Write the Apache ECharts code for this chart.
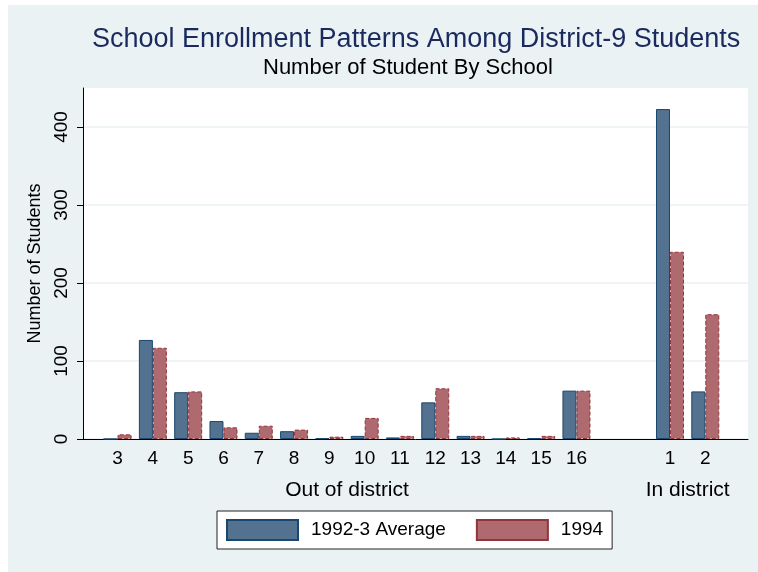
<!DOCTYPE html>
<html>
<head>
<meta charset="utf-8">
<title>School Enrollment Patterns</title>
<script src="https://cdn.jsdelivr.net/npm/echarts@6.0.0/dist/echarts.min.js"></script>
<style>
  html, body { margin: 0; padding: 0; background: #fff; }
  #main { position: absolute; left: 8px; top: 5px; width: 750px; height: 567px; }
</style>
</head>
<body>
<div id="main"></div>
<script>
// schools
let outLabels = ["3", "4", "5", "6", "7", "8", "9", "10", "11", "12", "13", "14", "15", "16"];
let inLabels = ["1", "2"];
let groupNames = ["Out of district", "In district"];
let seriesNames = ["1992-3 Average", "1994"];

let avgOut = [0, 127, 60, 23, 8, 10, 1, 4, 2, 47, 4, 0, 1, 62];
let y1994Out = [6, 117, 61, 15, 17, 12, 3, 27, 4, 65, 4, 2, 4, 62];
let avgIn = [423, 61];
let y1994In = [240, 160];

let yTicks = [0, 100, 200, 300, 400];

// x slots: one per school, plus a gap between the two groups
let groupGap = 2.65;
let outPos = outLabels.map((e, i) => i);
let inPos = inLabels.map((e, i) => outLabels.length - 1 + groupGap + i);
let xPos = outPos.concat(inPos);
let xLab = outLabels.concat(inLabels);
let groupPos = [
  (outPos[0] + outPos[outPos.length - 1]) / 2,
  (inPos[0] + inPos[inPos.length - 1]) / 2
];

let pairs = (pos, a, b) => pos.map((p, i) => [p, i < a.length ? a[i] : b[i - a.length]]);
let avgData = pairs(xPos, avgOut, avgIn);
let y1994Data = pairs(xPos, y1994Out, y1994In);

let labelOf = (v, pos, lab) => {
  let k = pos.findIndex(p => Math.abs(p - v) < 1e-6);
  return k < 0 ? "" : lab[k];
};

let font = "'Liberation Sans', Arial, sans-serif";
let chart = echarts.init(document.getElementById("main"));
chart.setOption({
  backgroundColor: "#eaf2f3",
  animation: false,
  textStyle: { fontFamily: font },
  title: [
    {
      text: "School Enrollment Patterns Among District-9 Students",
      left: 84,
      top: 21,
      padding: 0,
      textStyle: { fontFamily: font, fontSize: 27, fontWeight: "normal", color: "#1a2a5e" }
    },
    {
      text: "Number of Student By School",
      left: 255,
      top: 52,
      padding: 0,
      textStyle: { fontFamily: font, fontSize: 22, fontWeight: "normal", color: "#000" }
    }
  ],
  legend: {
    data: seriesNames,
    left: 209,
    top: 506,
    orient: "horizontal",
    padding: [8, 9, 8, 9],
    itemWidth: 71,
    itemHeight: 20,
    itemGap: 30,
    backgroundColor: "#fff",
    borderColor: "#222",
    borderWidth: 1,
    borderRadius: 0,
    icon: "rect",
    textStyle: { fontFamily: font, fontSize: 19, color: "#000", padding: [0, 0, 0, 8] }
  },
  grid: {
    left: 75,
    top: 83,
    right: 10,
    bottom: 133,
    show: true,
    backgroundColor: "#fff",
    borderWidth: 0
  },
  xAxis: [
    {
      type: "value",
      min: -0.98,
      max: 17.86,
      axisLine: { lineStyle: { color: "#000", width: 1 } },
      axisTick: { show: false },
      splitLine: { show: false },
      axisLabel: {
        customValues: xPos,
        formatter: v => labelOf(v, xPos, xLab),
        fontFamily: font,
        fontSize: 19,
        color: "#000",
        margin: 10
      }
    },
    {
      type: "value",
      position: "bottom",
      min: -0.98,
      max: 17.86,
      axisLine: { show: false },
      axisTick: { show: false },
      splitLine: { show: false },
      axisLabel: {
        customValues: groupPos,
        formatter: v => labelOf(v, groupPos, groupNames),
        fontFamily: font,
        fontSize: 21,
        color: "#000",
        margin: 41
      }
    }
  ],
  yAxis: {
    type: "value",
    min: 0,
    max: 450,
    name: "Number of Students",
    nameLocation: "middle",
    nameRotate: 90,
    nameGap: 34,
    nameTextStyle: { fontFamily: font, fontSize: 18, color: "#000" },
    axisLine: { show: true, onZero: false, lineStyle: { color: "#000", width: 1 } },
    axisTick: { show: true, length: 6, customValues: yTicks, lineStyle: { color: "#000" } },
    axisLabel: {
      customValues: yTicks,
      rotate: 90,
      fontFamily: font,
      fontSize: 19,
      color: "#000",
      margin: 12
    },
    splitLine: { show: true, lineStyle: { color: "#eaf2f3", width: 1.5 } }
  },
  series: [
    {
      name: seriesNames[0],
      type: "bar",
      data: avgData,
      barWidth: 14,
      barGap: "0%",
      itemStyle: { color: "#53728f", borderColor: "#1a476f", borderWidth: 1 }
    },
    {
      name: seriesNames[1],
      type: "bar",
      data: y1994Data,
      barWidth: 14,
      barGap: "0%",
      itemStyle: { color: "#ae6a6f", borderColor: "#90353b", borderWidth: 1, borderType: "dashed" }
    }
  ]
});
</script>
</body>
</html>
